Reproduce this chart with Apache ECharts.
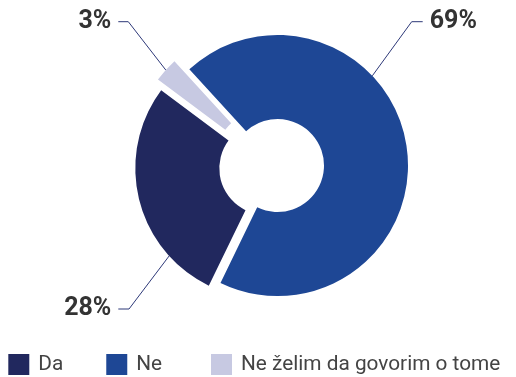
<!DOCTYPE html>
<html>
<head>
<meta charset="utf-8">
<script src="https://cdn.jsdelivr.net/npm/echarts@6/dist/echarts.min.js"></script>
<style>
  html, body { margin: 0; padding: 0; background: #ffffff; }
  #chart { width: 516px; height: 377px; }
</style>
</head>
<body>
<div id="chart"></div>
<script>
// Survey answers and their shares (percent)
const categories = ['Da', 'Ne', 'Ne želim da govorim o tome'];
const shares = [28, 69, 3];
const shareLabels = ['28%', '69%', '3%'];
const colors = ['#21285e', '#1e4795', '#c7c9e2'];

// Slices are drawn clockwise in this order: Ne, Da, Ne želim...
const drawOrder = [1, 0, 2];

// Ring geometry
const ring = { cx: 277.5, cy: 165.5, inner: 46.5, outer: 130.5, startAngle: 132.5 };

// Pull-out of each slice away from the ring centre (px)
const pullOut = [
  [-11.7, 2.8],   // Da
  [0, 0],         // Ne
  [-14.9, -8.0]   // Ne želim...
];

// Leader lines: anchor angle on the rim, elbow point, end point, and label side
const leaders = [
  { angle: 222.2, elbow: [129, 309], end: [118.3, 309], side: 'left' },
  { angle: 43.4, elbow: [411.7, 21.7], end: [422.7, 21.7], side: 'right' },
  { angle: 137.9, elbow: [128.3, 21.7], end: [118.3, 21.7], side: 'left' }
];

// Legend rows: which entries go together and where each group starts
const legendGroups = [
  { left: 8.3, items: [0, 1] },
  { left: 211, items: [2] }
];

const chart = echarts.init(document.getElementById('chart'), null, { renderer: 'canvas' });

const series = categories.map(function (name, i) {
  const cx = ring.cx + pullOut[i][0];
  const cy = ring.cy + pullOut[i][1];
  const focusPos = drawOrder.indexOf(i);
  return {
    type: 'pie',
    silent: true,
    center: [cx, cy],
    radius: [ring.inner, ring.outer],
    startAngle: ring.startAngle,
    clockwise: true,
    avoidLabelOverlap: false,
    animation: false,
    label: {
      show: true,
      position: 'outside',
      formatter: shareLabels[i],
      fontFamily: 'Roboto',
      fontWeight: 'bold',
      fontSize: 25,
      color: '#333333'
    },
    labelLine: {
      show: true,
      length: 10,
      length2: 10,
      lineStyle: { color: '#2d3878', width: 1 }
    },
    labelLayout: function (params) {
      if (params.dataIndex !== focusPos) return {};
      const L = leaders[i];
      const a = L.angle * Math.PI / 180;
      const start = [cx + ring.outer * Math.cos(a), cy - ring.outer * Math.sin(a)];
      const gap = 7;
      return {
        x: L.side === 'right' ? L.end[0] + gap : L.end[0] - gap,
        y: L.end[1],
        align: L.side === 'right' ? 'left' : 'right',
        verticalAlign: 'middle',
        labelLinePoints: [start, L.elbow, L.end]
      };
    },
    data: drawOrder.map(function (j) {
      const own = j === i;
      return {
        name: categories[j],
        value: shares[j],
        itemStyle: { color: own ? colors[j] : 'rgba(0,0,0,0)' },
        label: { show: own },
        labelLine: { show: own }
      };
    })
  };
});

const legends = legendGroups.map(function (g) {
  return {
    left: g.left,
    top: 354,
    width: 700,
    padding: 0,
    orient: 'horizontal',
    icon: 'rect',
    itemWidth: 21,
    itemHeight: 21,
    itemGap: 43,
    selectedMode: false,
    textStyle: {
      fontFamily: 'Roboto',
      fontSize: 20.8,
      color: '#444444',
      padding: [0, 0, 0, 4]
    },
    data: g.items.map(function (i) {
      return { name: categories[i], itemStyle: { color: colors[i] } };
    })
  };
});

chart.setOption({
  animation: false,
  legend: legends,
  series: series
});
</script>
</body>
</html>
